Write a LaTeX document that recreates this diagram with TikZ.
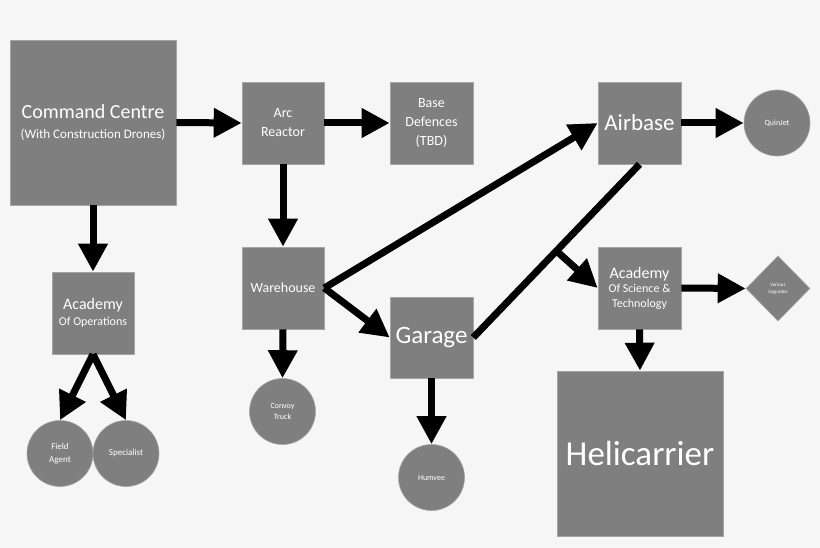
\documentclass[tikz,border=0pt]{standalone}
\usepackage{fontspec}
\setmainfont{Carlito}
\usetikzlibrary{calc}
\usetikzlibrary{arrows.meta}
\usetikzlibrary{shapes.geometric}
\newcommand{\fs}[2]{\fontsize{#1}{#2}\selectfont}
\definecolor{bggray}{HTML}{F6F6F6}
\definecolor{boxgray}{HTML}{7F7F7F}
\definecolor{edgegray}{HTML}{A5A5A5}
\tikzset{
	box/.style={rectangle,fill=boxgray,draw=edgegray,line width=0.6pt,text=white,align=center,inner sep=0pt},
	round/.style={circle,fill=boxgray,draw=edgegray,line width=0.6pt,text=white,align=center,inner sep=0pt,minimum size=66pt},
	gem/.style={diamond,fill=boxgray,draw=edgegray,line width=0.6pt,text=white,align=center,inner sep=0pt,minimum width=64pt,minimum height=65pt},
	link/.style={line width=7pt,black},
	>={Triangle[width=28pt,length=28pt]},
}

\begin{document}
\begin{tikzpicture}[x=1pt,y=-1pt]
\useasboundingbox[fill=bggray] (0,0) rectangle (820,548);
% boxes
\node[box,minimum width=166pt,minimum height=165pt,font=\fs{13}{20}] at (93,122.5) (cc) {{\fs{20}{24}Command Centre}\\(With Construction Drones)};
\node[box,minimum width=82pt,minimum height=82pt,font=\fs{14}{19}] at (283,123) (arc) {Arc\\Reactor};
\node[box,minimum width=83pt,minimum height=82pt,font=\fs{14}{19}] at (431.5,123) (base) {Base\\Defences\\(TBD)};
\node[box,minimum width=83pt,minimum height=82pt,font=\fs{23}{26}] at (639.5,123) (air) {Airbase};
\node[box,minimum width=82pt,minimum height=82pt,font=\fs{12}{16}] at (93,313) (ao) {{\fs{16}{16}Academy}\\Of Operations};
\node[box,minimum width=82pt,minimum height=82pt,font=\fs{14}{16}] at (283,288) (wh) {Warehouse};
\node[box,minimum width=83pt,minimum height=81pt,font=\fs{25}{28}] at (431.5,337.5) (gar) {Garage};
\node[box,minimum width=83pt,minimum height=82pt,font=\fs{12}{14.5}] at (639.5,288) (sci) {{\fs{16}{16}Academy}\\Of Science \&\\Technology};
\node[box,minimum width=166pt,minimum height=165pt,font=\fs{35}{40}] at (640,453.5) (heli) {Helicarrier};
% circles and diamond
\node[round,font=\fs{8}{10}] at (777,123) (quin) {QuinJet};
\node[gem,font=\fs{5}{7}] at (778,288.5) (var) {Various\\Upgrades};
\node[round,font=\fs{9}{13}] at (60,453.5) (fa) {Field\\Agent};
\node[round,font=\fs{9}{11}] at (126,453.5) (sp) {Specialist};
\node[round,font=\fs{8}{11}] at (282.5,411.5) (cv) {Convoy\\Truck};
\node[round,font=\fs{8}{10}] at (431.5,477.5) (hum) {Humvee};
% connectors
\draw[link,->] (cc.east) -- (arc.west);
\draw[link,->] (arc.east) -- (base.west);
\draw[link,->] (cc.south) -- (ao.north);
\draw[link,->] (arc.south) -- (wh.north);
\draw[link,->] (ao.south) -- (fa.north);
\draw[link,->] (ao.south) -- (sp.north);
\draw[link,->] (wh.south) -- (cv.north);
\draw[link,->] (wh.east) -- (air.west);
\draw[link,->] (wh.east) -- (gar.west);
\draw[link,->] (gar.south) -- (hum.north);
\draw[link] (gar.east) -- (air.south);
\coordinate (split) at ($(gar.east)!0.5!(air.south)$);
\draw[link,->] (split) -- (sci.west);
\draw[link,->] (air.east) -- (quin.west);
\draw[link,->] (sci.east) -- (var.west);
\draw[link,->] (sci.south) -- (heli.north);
\end{tikzpicture}
\end{document}
